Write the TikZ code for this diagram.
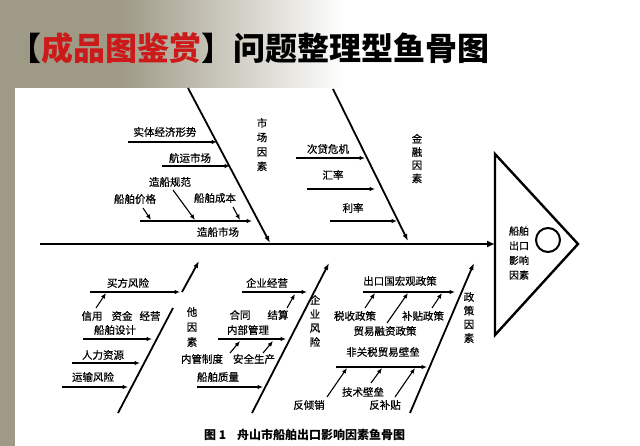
\documentclass[tikz,border=0pt]{standalone}
\usepackage{fontspec}
\newfontfamily\cjk[FakeBold=0.5]{Noto Sans CJK SC}
\newfontfamily\cjkt{Noto Sans CJK SC}
\usetikzlibrary{arrows.meta}
\definecolor{leaf}{HTML}{9E9A86}
\definecolor{titlered}{HTML}{CC1A1A}
\begin{document}
\begin{tikzpicture}[x=1pt,y=-1pt,
  lbl/.style={font=\cjk\fontsize{10.5}{12}\selectfont, inner sep=0pt},
  vtxt/.style={font=\cjk\fontsize{10.5}{#1}\selectfont, align=center, inner sep=0pt},
  vtxt/.default=14,
  sarr/.style={line width=1.1pt, -{Latex[length=5.5pt,width=4.5pt]}},
  bone/.style={line width=1.8pt, -{Latex[length=7pt,width=5pt]}},
  plainbone/.style={line width=1.8pt},
  spine/.style={line width=2.6pt, -{Latex[length=8pt,width=7pt]}},
]
\useasboundingbox (0,0) rectangle (640,446);
% background
\fill[white] (0,0) rectangle (640,446);
\fill[leaf] (0,0) rectangle (120,88);
\shade[left color=leaf, right color=white] (120,0) rectangle (345,88);
\fill[leaf] (0,88) rectangle (15,446);
\fill[white] (15,88) rectangle (640,446);

% title
\node[anchor=west, inner sep=0pt, font=\cjkt\bfseries\fontsize{32}{34}\selectfont] (title) at (9,48)
  {【\textcolor{titlered}{成品图鉴赏}】问题整理型鱼骨图};

% head
\coordinate (hA) at (495,154);
\coordinate (hB) at (578,244);
\coordinate (hC) at (495,335);
\coordinate (hM) at (495,244);
\draw[line width=2.4pt, line join=miter] (hA) -- (hB) -- (hC) -- cycle;
\node[draw, circle, line width=2pt, minimum size=24pt, inner sep=0pt] (eye) at (548,240) {};
\node[vtxt=14.7, font=\cjk\fontsize{10}{14.7}\selectfont] (headtxt) at (519,253) {船舶\\出口\\影响\\因素};

% spine
\coordinate (spS) at (40,244);
\draw[spine] (spS) -- (hM);

% ---------- top bones ----------
\coordinate (mkT) at (188,88); \coordinate (mkB) at (270,243);
\coordinate (fiT) at (333,89); \coordinate (fiB) at (408,241);
\draw[bone] (mkT) -- (mkB);
\draw[bone] (fiT) -- (fiB);
\node[vtxt=14.4] (vmk) at (262,144.5) {市\\场\\因\\素};
\node[vtxt=13.2] (vfi) at (417,158.5) {金\\融\\因\\素};

% market branch
\coordinate (a1s) at (128,142); \coordinate (a1e) at (217,142);
\coordinate (a2s) at (162,166); \coordinate (a2e) at (230,166);
\coordinate (a3s) at (140,221); \coordinate (a3e) at (252,221);
\coordinate (a4s) at (143,208); \coordinate (a4e) at (151,220);
\coordinate (a5s) at (173,190); \coordinate (a5e) at (195,220);
\coordinate (a6s) at (233,207); \coordinate (a6e) at (240,220);
\draw[sarr] (a1s) -- (a1e);
\draw[sarr] (a2s) -- (a2e);
\draw[sarr] (a3s) -- (a3e);
\draw[sarr] (a4s) -- (a4e);
\draw[sarr] (a5s) -- (a5e);
\draw[sarr] (a6s) -- (a6e);
\node[lbl] (t1) at (165,132) {实体经济形势};
\node[lbl] (t2) at (190,158) {航运市场};
\node[lbl] (t3) at (218,232) {造船市场};
\node[lbl] (t4) at (135,199) {船舶价格};
\node[lbl] (t5) at (170,182) {造船规范};
\node[lbl] (t6) at (215,198) {船舶成本};

% finance branch
\coordinate (b1s) at (296,158); \coordinate (b1e) at (365,158);
\coordinate (b2s) at (307,189); \coordinate (b2e) at (375,189);
\coordinate (b3s) at (330,221); \coordinate (b3e) at (397,221);
\draw[sarr] (b1s) -- (b1e);
\draw[sarr] (b2s) -- (b2e);
\draw[sarr] (b3s) -- (b3e);
\node[lbl] (u1) at (328,149) {次贷危机};
\node[lbl] (u2) at (333,175) {汇率};
\node[lbl] (u3) at (353,208) {利率};

% ---------- bottom bones ----------
\coordinate (otB) at (118,413); \coordinate (otM1) at (173,308);
\coordinate (otM2) at (182,292); \coordinate (otT) at (199,261);
\draw[plainbone] (otB) -- (otM1);
\draw[bone] (otM2) -- (otT);
\coordinate (enB) at (252,413); \coordinate (enT) at (329,263);
\draw[bone] (enB) -- (enT);
\coordinate (poB) at (410,413); \coordinate (poT) at (474,263);
\draw[bone] (poB) -- (poT);
\node[vtxt=15] (vot) at (192,327) {他\\因\\素};
\node[vtxt=14] (ven) at (315,321) {企\\业\\风\\险};
\node[vtxt=13.7] (vpo) at (469,317.5) {政\\策\\因\\素};

% other branch
\coordinate (c1s) at (90,292); \coordinate (c1e) at (180,292);
\coordinate (c2s) at (96,308); \coordinate (c2e) at (106,293);
\coordinate (c3s) at (83,339); \coordinate (c3e) at (152,339);
\coordinate (c4s) at (72,363); \coordinate (c4e) at (140,363);
\coordinate (c5s) at (62,387); \coordinate (c5e) at (128,387);
\draw[sarr] (c1s) -- (c1e);
\draw[sarr] (c2s) -- (c2e);
\draw[sarr] (c3s) -- (c3e);
\draw[sarr] (c4s) -- (c4e);
\draw[sarr] (c5s) -- (c5e);
\node[lbl] (v1) at (128,283) {买方风险};
\node[lbl] (v2) at (92,316) {信用};
\node[lbl] (v3) at (122,316) {资金};
\node[lbl] (v4) at (150,316) {经营};
\node[lbl] (v5) at (115,330) {船舶设计};
\node[lbl] (v6) at (103,355) {人力资源};
\node[lbl] (v7) at (93,377) {运输风险};

% enterprise branch
\coordinate (d1s) at (242,292); \coordinate (d1e) at (307,292);
\coordinate (d2s) at (287,308); \coordinate (d2e) at (295,294);
\coordinate (d3s) at (218,339); \coordinate (d3e) at (286,339);
\coordinate (d4s) at (230,353); \coordinate (d4e) at (240,341);
\coordinate (d5s) at (263,353); \coordinate (d5e) at (273,341);
\coordinate (d6s) at (197,387); \coordinate (d6e) at (263,387);
\draw[sarr] (d1s) -- (d1e);
\draw[sarr] (d2s) -- (d2e);
\draw[sarr] (d3s) -- (d3e);
\draw[sarr] (d4s) -- (d4e);
\draw[sarr] (d5s) -- (d5e);
\draw[sarr] (d6s) -- (d6e);
\node[lbl] (w1) at (267,283) {企业经营};
\node[lbl] (w2) at (240,315) {合同};
\node[lbl] (w3) at (278,315) {结算};
\node[lbl] (w4) at (248,330) {内部管理};
\node[lbl] (w5) at (202,359) {内管制度};
\node[lbl] (w6) at (254,359) {安全生产};
\node[lbl] (w7) at (218,377) {船舶质量};

% policy branch
\coordinate (e1s) at (363,292); \coordinate (e1e) at (455,292);
\coordinate (e2s) at (365,308); \coordinate (e2e) at (375,293);
\coordinate (e3s) at (387,323); \coordinate (e3e) at (408,293);
\coordinate (e4s) at (432,308); \coordinate (e4e) at (442,293);
\coordinate (e5s) at (336,367); \coordinate (e5e) at (427,367);
\coordinate (e6s) at (327,397); \coordinate (e6e) at (347,368);
\coordinate (e7s) at (371,383); \coordinate (e7e) at (382,368);
\coordinate (e8s) at (395,397); \coordinate (e8e) at (415,368);
\draw[sarr] (e1s) -- (e1e);
\draw[sarr] (e2s) -- (e2e);
\draw[sarr] (e3s) -- (e3e);
\draw[sarr] (e4s) -- (e4e);
\draw[sarr] (e5s) -- (e5e);
\draw[sarr] (e6s) -- (e6e);
\draw[sarr] (e7s) -- (e7e);
\draw[sarr] (e8s) -- (e8e);
\node[lbl] (x1) at (400,281) {出口国宏观政策};
\node[lbl] (x2) at (355,316) {税收政策};
\node[lbl] (x3) at (385,331) {贸易融资政策};
\node[lbl] (x4) at (423,316) {补贴政策};
\node[lbl] (x5) at (383,352) {非关税贸易壁垒};
\node[lbl] (x6) at (309,405) {反倾销};
\node[lbl] (x7) at (363,392) {技术壁垒};
\node[lbl] (x8) at (385,405) {反补贴};

% caption
\node[anchor=west, inner sep=0pt, font=\cjkt\bfseries\fontsize{12}{14}\selectfont] (cap1) at (204,435) {图 1};
\node[anchor=west, inner sep=0pt, font=\cjkt\bfseries\fontsize{12}{14}\selectfont] (cap2) at (237,435) {舟山市船舶出口影响因素鱼骨图};
\end{tikzpicture}
\end{document}
